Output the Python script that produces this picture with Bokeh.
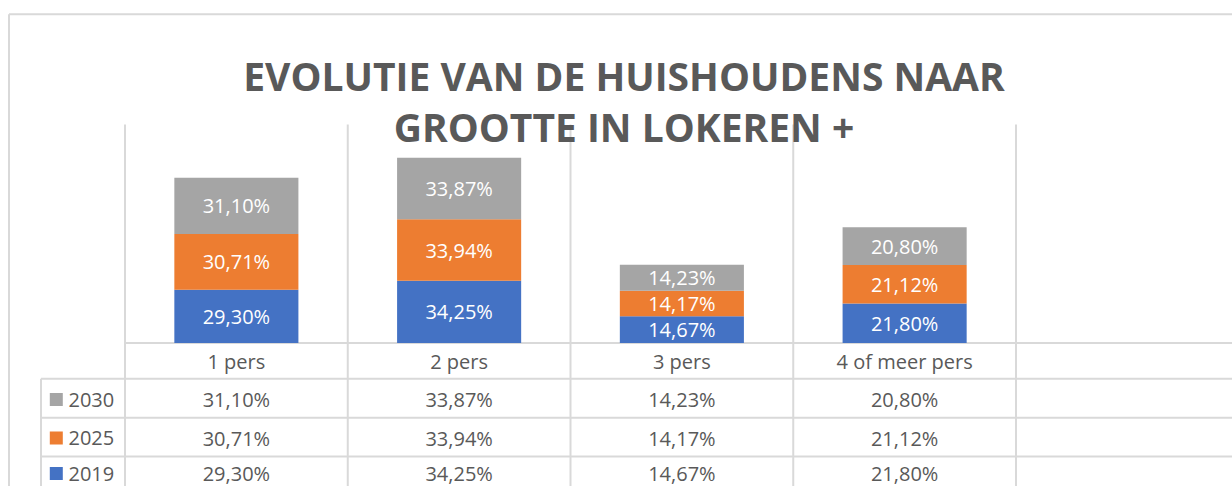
from bokeh.plotting import figure
from bokeh.models import Range1d, ColumnDataSource
from bokeh.core.properties import value
from bokeh.embed import file_html
from bokeh.resources import INLINE

# ---------------- data ----------------
categories = ["1 pers", "2 pers", "3 pers", "4 of meer pers"]
years = ["2019", "2025", "2030"]
v2019 = [29.30, 34.25, 14.67, 21.80]
v2025 = [30.71, 33.94, 14.17, 21.12]
v2030 = [31.10, 33.87, 14.23, 20.80]
colors = ["#4472C4", "#ED7D31", "#A5A5A5"]
title_lines = ["EVOLUTIE VAN DE HUISHOUDENS NAAR", "GROOTTE IN LOKEREN +"]


def fmt(v):
    return f"{v:.2f}".replace(".", ",") + "%"


series = [v2019, v2025, v2030]

# ---------------- layout (picture pixels) ----------------
W, H = 1232, 486
PX0, PX1 = 0, W
PY0, PY1 = 0, H
CAT0, CATW = 124.5, 222.75   # category slot start / width
BASE, PPU = 342.5, 1.815     # y of value 0, pixels per percent
PLOT_TOP = 124
GRID = "#D9D9D9"
TXT = "#595959"
FONT = "Open Sans"


def X(u):
    return CAT0 + CATW * u


p = figure(width=W, height=H, output_backend="svg", toolbar_location=None,
           x_range=Range1d((PX0 - CAT0) / CATW, (PX1 - CAT0) / CATW),
           y_range=Range1d((BASE - PY1) / PPU, (BASE - PY0) / PPU),
           x_axis_location=None, y_axis_location=None, min_border=0)
p.extra_x_ranges = {"px": Range1d(PX0, PX1)}
p.extra_y_ranges = {"px": Range1d(PY1, PY0)}
p.grid.visible = False
p.outline_line_color = None
p.background_fill_color = "white"
p.border_fill_color = "white"

ncat = len(categories)

# outer chart border
p.segment(x0=[8.5, 8.5], y0=[13.7, 13.7], x1=[PX1, 8.5], y1=[13.7, PY1],
          line_color=GRID, line_width=2, x_range_name="px", y_range_name="px")

# vertical separators (plot area + table)
vx = [X(i) for i in range(ncat + 1)]
p.segment(x0=vx, y0=[PLOT_TOP] * len(vx), x1=vx, y1=[PY1] * len(vx),
          line_color=GRID, line_width=2, x_range_name="px", y_range_name="px")

# table horizontal lines
row_tops = [378.3, 417.3, 456]
p.segment(x0=[X(0)] + [40.5] * len(row_tops), y0=[BASE] + row_tops,
          x1=[PX1] * (1 + len(row_tops)), y1=[BASE] + row_tops,
          line_color=GRID, line_width=2, x_range_name="px", y_range_name="px")
p.segment(x0=[40.5], y0=[row_tops[0]], x1=[40.5], y1=[PY1],
          line_color=GRID, line_width=2, x_range_name="px", y_range_name="px")

# stacked bars
xs = [i + 0.5 for i in range(ncat)]
bottom = [0.0] * ncat
for vals, col in zip(series, colors):
    top = [b + v for b, v in zip(bottom, vals)]
    src = ColumnDataSource(dict(x=xs, bottom=bottom, top=top,
                                mid=[(b + t) / 2 for b, t in zip(bottom, top)],
                                lab=[fmt(v) for v in vals]))
    p.vbar(x="x", bottom="bottom", top="top", width=0.557, source=src,
           fill_color=col, line_color=None)
    p.text(x="x", y="mid", text="lab", source=src, text_color="white",
           text_font=value(FONT), text_font_size="20px",
           text_align="center", text_baseline="middle")
    bottom = top

# title
p.text(x=[623.5, 623.5], y=[75, 126], text=title_lines, text_color=TXT,
       text_font=value(FONT), text_font_size="39px", text_font_style="bold",
       text_align="center", text_baseline="alphabetic",
       x_range_name="px", y_range_name="px")

# category labels row
cx = [X(i + 0.5) for i in range(ncat)]
p.text(x=cx, y=[361] * ncat, text=categories, text_color=TXT,
       text_font=value(FONT), text_font_size="20px",
       text_align="center", text_baseline="middle",
       x_range_name="px", y_range_name="px")

# data table rows: 2030, 2025, 2019 from top
row_centers = [399, 437.5, 473]
for rc, vals, col, yr in zip(row_centers, series[::-1], colors[::-1], years[::-1]):
    p.text(x=cx, y=[rc] * ncat, text=[fmt(v) for v in vals], text_color=TXT,
           text_font=value(FONT), text_font_size="20px",
           text_align="center", text_baseline="middle",
           x_range_name="px", y_range_name="px")
    p.rect(x=[55.8], y=[rc], width=13, height=13, width_units="screen",
           height_units="screen", fill_color=col, line_color=None,
           x_range_name="px", y_range_name="px")
    p.text(x=[68], y=[rc], text=[yr], text_color=TXT,
           text_font=value(FONT), text_font_size="20px",
           text_align="left", text_baseline="middle",
           x_range_name="px", y_range_name="px")

open("out.html", "w").write(file_html(p, INLINE))
